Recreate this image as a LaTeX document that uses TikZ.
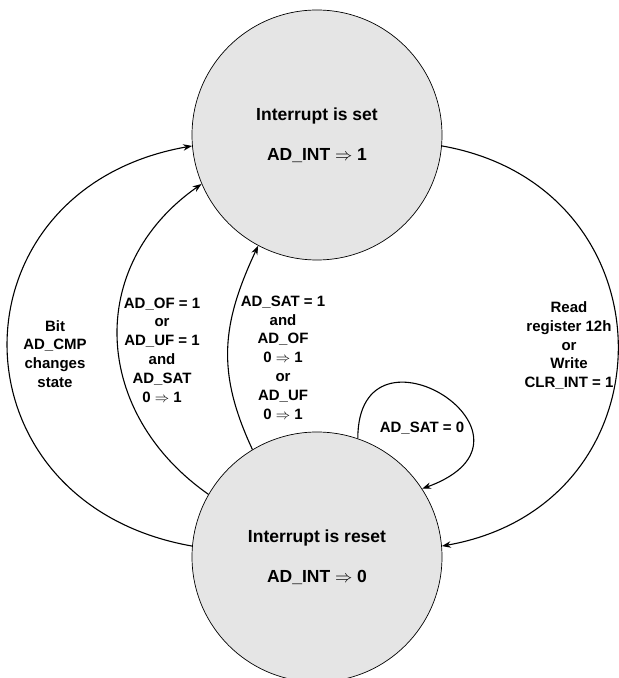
\documentclass[tikz,border=0pt]{standalone}
\usepackage{amsmath,amssymb}
\usepackage{fontspec}
\setmainfont{Liberation Sans}
\usepackage{tikz}
\usetikzlibrary{arrows.meta}

\begin{document}
\begin{tikzpicture}[x=1pt,y=1pt,>={Stealth[length=9pt,width=6.5pt]},
		zust/.style={circle,draw,line width=0.7pt,fill=gray!20,minimum size=250pt,inner sep=0pt,
			align=center,font=\fontsize{17.5}{21}\selectfont\bfseries},
		lbl/.style={align=center,inner sep=0pt,font=\fontsize{15}{18.8}\selectfont\bfseries},
		uebg/.style={->,line width=1.1pt}]
	
	\useasboundingbox (0,0) rectangle (619,678);
	
	% 两个状态
	\node[zust] (intset) at (317,543) {Interrupt is set\\[19pt]AD\_INT $\Rightarrow$ 1};
	\node[zust] (intreset) at (317,121) {Interrupt is reset\\[19pt]AD\_INT $\Rightarrow$ 0};
	
	% 转移
	\draw[uebg] (intreset.175) to[out=170,in=190,looseness=1.6] (intset.185);
	\draw[uebg] (intreset.150) to[out=145,in=215,looseness=1.17] (intset.203);
	\draw[uebg] (intreset.121) to[out=115,in=245,looseness=1.08] (intset.242);
	\draw[uebg] (intset.355) to[out=-10,in=10,looseness=1.525] (intreset.5);
	\draw[uebg] (intreset.71) .. controls +(90:130pt) and +(20:150pt) .. (intreset.33);
	
	% 条件
	\node[lbl] (cmp) at (55,324) {Bit\\AD\_CMP\\changes\\state};
	\node[lbl] (ofuf) at (162,328) {AD\_OF = 1\\or\\AD\_UF = 1\\and\\AD\_SAT\\0 $\Rightarrow$ 1};
	\node[lbl] (sateins) at (283,320.5) {AD\_SAT = 1\\and\\AD\_OF\\0 $\Rightarrow$ 1\\or\\AD\_UF\\0 $\Rightarrow$ 1};
	\node[lbl] (satnull) at (422,250) {AD\_SAT = 0};
	\node[lbl] (clr) at (569,332.5) {Read\\register 12h\\or\\Write\\CLR\_INT = 1};
	
\end{tikzpicture}
\end{document}
